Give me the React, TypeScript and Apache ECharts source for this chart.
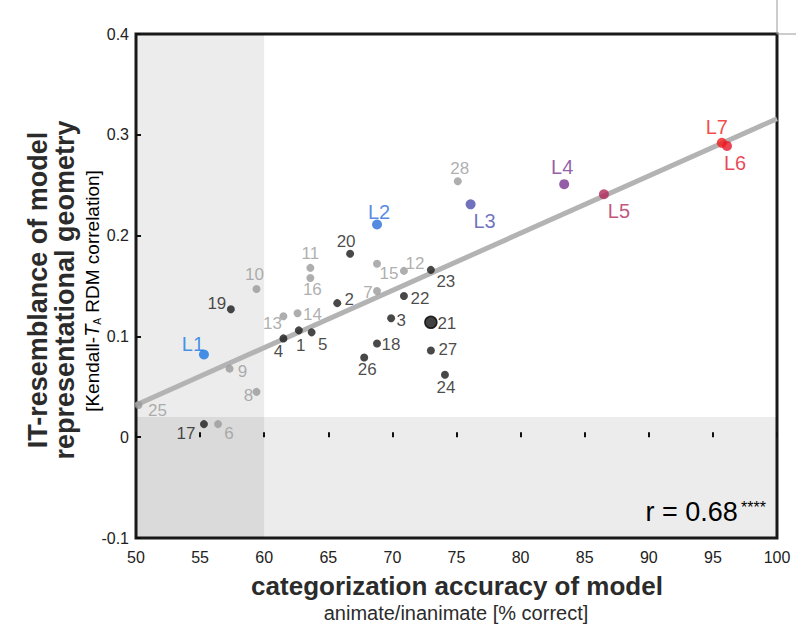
import React, { useEffect, useRef } from 'react';
import * as echarts from 'echarts';

// ---- data ----
const blackNames = ['1', '2', '3', '4', '5', '17', '18', '19', '20', '21', '22', '23', '24', '26', '27'];
const blackX = [62.7, 65.7, 69.9, 61.5, 63.7, 55.3, 68.8, 57.4, 66.7, 73.0, 70.9, 73.0, 74.1, 67.8, 73.0];
const blackY = [0.106, 0.133, 0.118, 0.098, 0.104, 0.013, 0.093, 0.127, 0.182, 0.114, 0.140, 0.166, 0.062, 0.079, 0.086];

const grayNames = ['6', '7', '8', '9', '10', '11', '12', '13', '14', '15', '16', '25', '28'];
const grayX = [56.4, 68.8, 59.4, 57.3, 59.4, 63.6, 70.9, 61.5, 62.6, 68.8, 63.6, 50.2, 75.1];
const grayY = [0.013, 0.145, 0.045, 0.068, 0.147, 0.168, 0.165, 0.120, 0.123, 0.172, 0.158, 0.032, 0.254];

const layerNames = ['L1', 'L2', 'L3', 'L4', 'L5', 'L6', 'L7'];
const layerX = [55.3, 68.8, 76.1, 83.4, 86.5, 96.1, 95.7];
const layerY = [0.082, 0.211, 0.231, 0.251, 0.241, 0.289, 0.292];

const fitX = [50, 100];
const fitY = [0.032, 0.316];

const chanceAccuracy = 60;
const chanceCorrelation = 0.02;

const xMin = 50, xMax = 100, xStep = 5;
const yMin = -0.1, yMax = 0.4, yStep = 0.1;

const rLabel = 'r = 0.68';
const rStars = '****';

// ---- styling ----
const layerColors = ['#1a78e4', '#2b6dd9', '#4d4fae', '#7a3491', '#b0285a', '#e3162c', '#f01b1b'];
const FONT = "'Liberation Sans', Arial, Helvetica, sans-serif";

const labelOffset: Record<string, [number, number]> = {
  '1': [2, 15], '2': [12, -4], '3': [10, 2], '4': [-5, 13], '5': [11, 12],
  '17': [-18, 9], '18': [14, 1], '19': [-14, -6], '20': [-4, -12], '21': [16, 1],
  '22': [16, 2], '23': [15, 12], '24': [1, 13], '26': [3, 12], '27': [17, -1],
  '6': [11, 9], '7': [-9, 1], '8': [-8, 4], '9': [13, 3], '10': [-2, -15],
  '11': [0, -14], '12': [11, -7], '13': [-11, 7], '14': [15, 1], '15': [12, 10],
  '16': [2, 12], '25': [19, 6], '28': [2, -13],
  'L1': [-11, -11], 'L2': [2, -13], 'L3': [14, 17], 'L4': [-2, -17],
  'L5': [15, 17], 'L6': [8, 17], 'L7': [-5, -16],
};

export default function App() {
  const ref = useRef<HTMLDivElement>(null);

  useEffect(() => {
    if (!ref.current) return;
    const chart = echarts.init(ref.current, undefined, { renderer: 'svg' });

    const blackData = blackNames.map((n, i) => ({
      name: n,
      value: [blackX[i], blackY[i]],
      symbolSize: n === '21' ? 12 : 8,
      itemStyle: n === '21' ? { color: '#111', borderColor: '#000', borderWidth: 1.5 } : undefined,
      label: { offset: labelOffset[n] },
    }));
    const grayData = grayNames.map((n, i) => ({
      name: n,
      value: [grayX[i], grayY[i]],
      label: { offset: labelOffset[n] },
    }));
    const layerData = layerNames.map((n, i) => ({
      name: n,
      value: [layerX[i], layerY[i]],
      itemStyle: { color: layerColors[i] },
      label: { offset: labelOffset[n], color: layerColors[i] },
    }));

    const ptLabel = (color: string, size: number) => ({
      show: true,
      position: 'inside' as const,
      formatter: '{b}',
      color,
      fontSize: size,
      fontFamily: FONT,
      align: 'center',
      verticalAlign: 'middle',
    });

    const txt = (x: number, y: number, text: string, font: string, rot = 0) => ({
      type: 'text', x, y, rotation: rot, silent: true,
      style: {
        text, fill: '#2b2b2b', font,
        align: 'center', verticalAlign: 'middle',
        textAlign: 'center', textVerticalAlign: 'middle',
      },
    });

    chart.setOption({
      animation: false,
      backgroundColor: '#fff',
      textStyle: { fontFamily: FONT },
      grid: {
        left: 136, right: 19, top: 34, bottom: 91,
        show: true, backgroundColor: '#fff', borderColor: '#1a1a1a', borderWidth: 3,
      },
      xAxis: {
        type: 'value', min: xMin, max: xMax, interval: xStep,
        axisLine: { show: false },
        axisTick: { show: true, inside: true, length: 5, lineStyle: { color: '#111', width: 2 } },
        axisLabel: { color: '#222', fontSize: 16, fontFamily: FONT, margin: 11 },
        splitLine: { show: false },
      },
      yAxis: {
        type: 'value', min: yMin, max: yMax, interval: yStep,
        axisLine: { show: false },
        axisTick: { show: true, inside: true, length: 5, lineStyle: { color: '#111', width: 2 } },
        axisLabel: {
          color: '#222', fontSize: 16, fontFamily: FONT, margin: 7,
          formatter: (v: number) => String(Math.round(v * 10) / 10),
        },
        splitLine: { show: false },
      },
      series: [
        {
          type: 'scatter',
          data: [],
          z: 0,
          silent: true,
          markArea: {
            silent: true,
            itemStyle: { color: 'rgba(0,0,0,0.075)' },
            data: [
              [{ xAxis: xMin, yAxis: yMin }, { xAxis: chanceAccuracy, yAxis: yMax }],
              [{ xAxis: xMin, yAxis: yMin }, { xAxis: xMax, yAxis: chanceCorrelation }],
            ],
          },
        },
        {
          type: 'line',
          z: 1,
          silent: true,
          symbol: 'none',
          data: fitX.map((x, i) => [x, fitY[i]]),
          lineStyle: { color: '#b3b3b3', width: 5 },
        },
        {
          type: 'scatter',
          z: 3,
          symbolSize: 8,
          itemStyle: { color: '#9a9a9a' },
          data: grayData,
          label: ptLabel('#9a9a9a', 17),
        },
        {
          type: 'scatter',
          z: 4,
          symbolSize: 8,
          itemStyle: { color: '#1a1a1a' },
          data: blackData,
          label: ptLabel('#1a1a1a', 17),
        },
        {
          type: 'scatter',
          z: 5,
          symbolSize: 10,
          data: layerData,
          label: ptLabel('#333', 20),
        },
      ],
      graphic: [
        txt(38, 290, 'IT-resemblance of model', `bold 27px ${FONT}`, Math.PI / 2),
        txt(65, 290, 'representational geometry', `bold 27px ${FONT}`, Math.PI / 2),
        {
          type: 'text', x: 92, y: 291, rotation: Math.PI / 2, silent: true,
          style: {
            text: '{a|[Kendall-}{t|T}{s|A}{a| RDM correlation]}',
            align: 'center', verticalAlign: 'middle',
            textAlign: 'center', textVerticalAlign: 'middle',
            rich: {
              a: { fontSize: 19, fontFamily: FONT, color: '#2b2b2b' },
              t: { fontSize: 20, fontFamily: FONT, fontStyle: 'italic', color: '#2b2b2b' },
              s: { fontSize: 10, fontFamily: FONT, color: '#2b2b2b', verticalAlign: 'bottom', padding: [8, 0, 0, 0] },
            },
          },
        },
        txt(457, 586, 'categorization accuracy of model', `bold 26px ${FONT}`),
        txt(456, 613, 'animate/inanimate [% correct]', `20px ${FONT}`),
        {
          type: 'text', x: 766, y: 512, silent: true,
          style: {
            text: `{r|${rLabel}} {st|${rStars}}`,
            align: 'right', verticalAlign: 'middle',
            textAlign: 'right', textVerticalAlign: 'middle',
            rich: {
              r: { fontSize: 27, fontFamily: FONT, color: '#111' },
              st: { fontSize: 16, fontFamily: FONT, color: '#111', padding: [0, 0, 10, 0] },
            },
          },
        },
        {
          type: 'line', silent: true,
          shape: { x1: 777, y1: 0, x2: 777, y2: 34 },
          style: { stroke: '#999', lineWidth: 1 },
        },
        {
          type: 'line', silent: true,
          shape: { x1: 777, y1: 34, x2: 796, y2: 34 },
          style: { stroke: '#999', lineWidth: 1 },
        },
      ],
    });

    return () => chart.dispose();
  }, []);

  return (
    <div
      ref={ref}
      style={{ position: 'absolute', left: 0, top: 0, width: 796, height: 629 }}
    />
  );
}
